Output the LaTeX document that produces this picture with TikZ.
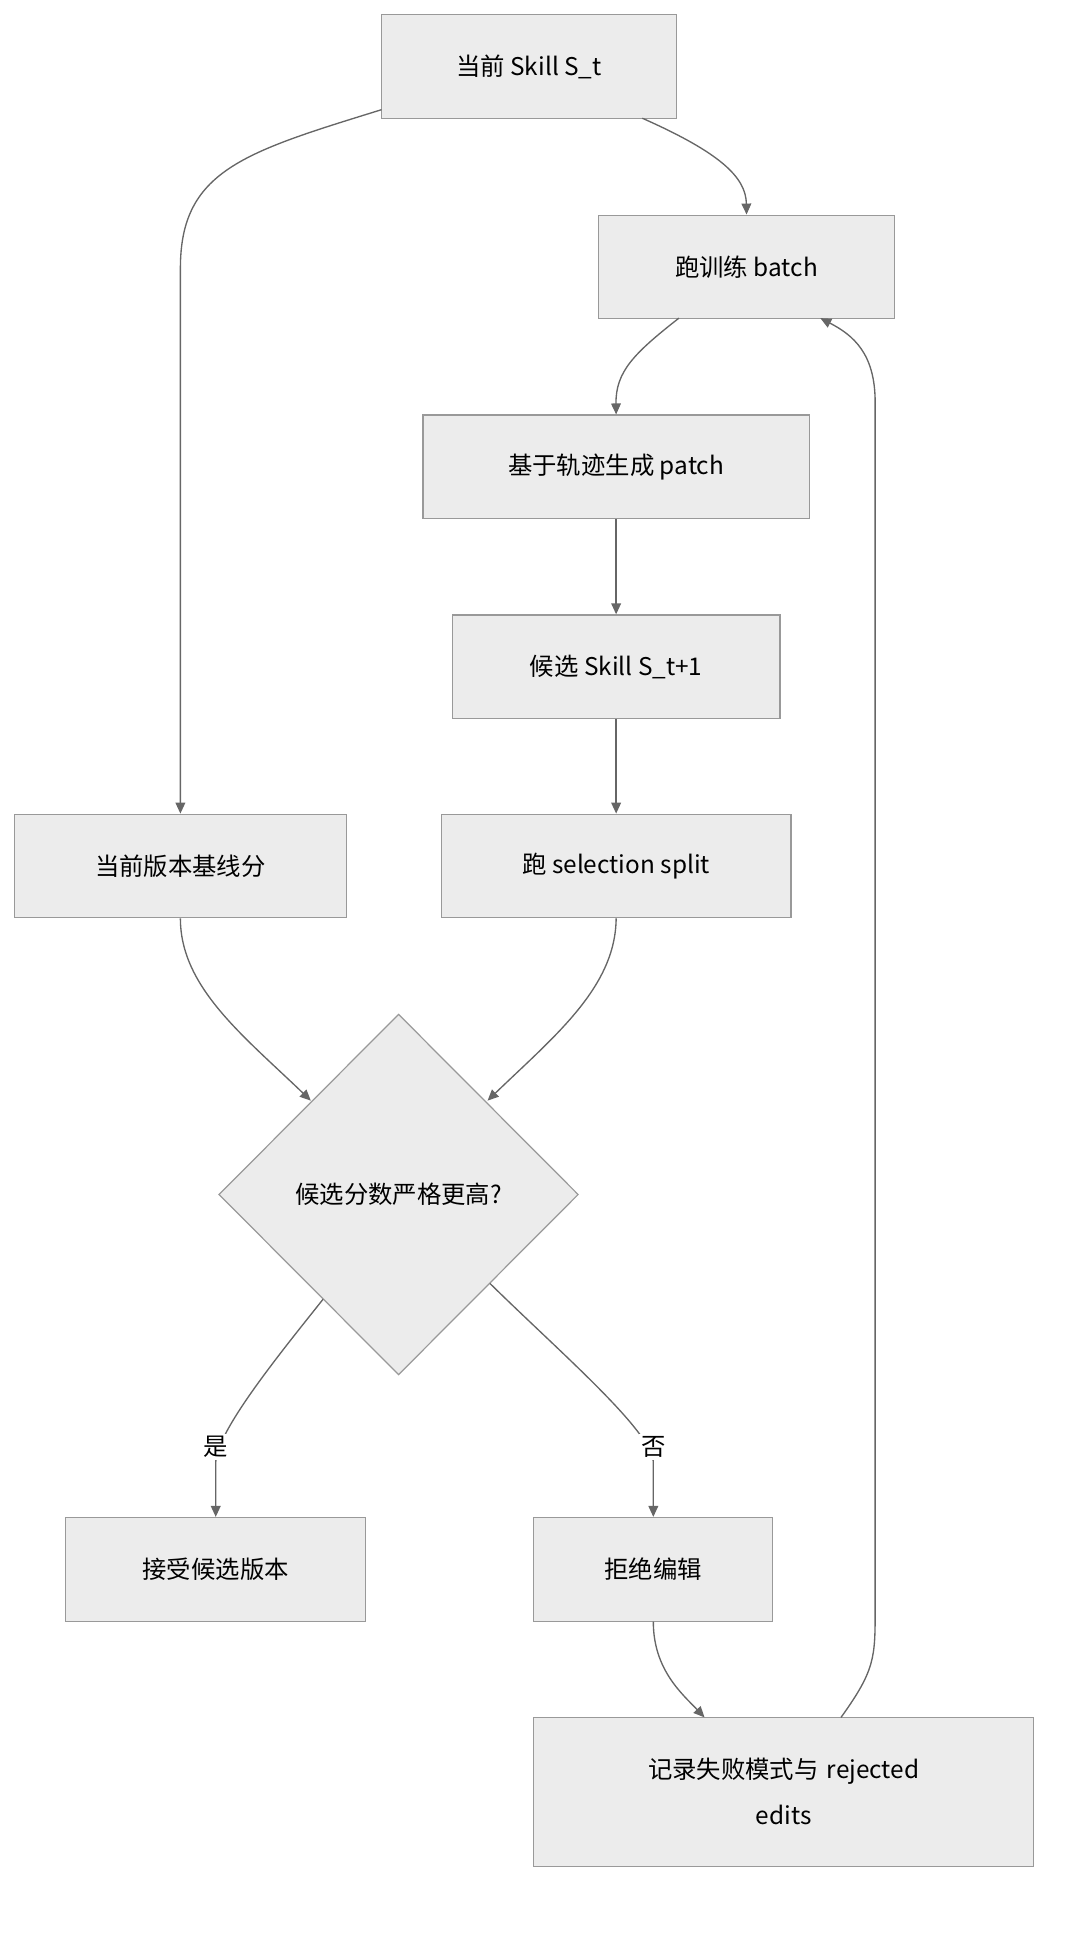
\documentclass[tikz,border=0pt]{standalone}
\usepackage{fontspec}
\setmainfont{Noto Sans CJK SC}
\usetikzlibrary{shapes.geometric,arrows.meta}
\definecolor{boxfill}{HTML}{ECECEC}
\definecolor{boxline}{HTML}{999999}
\definecolor{edge}{HTML}{666666}
\begin{document}
\begin{tikzpicture}[x=1pt,y=-1pt,
  box/.style={draw=boxline,fill=boxfill,line width=1pt,minimum height=85pt,inner sep=0pt,font=\fontsize{20}{38}\selectfont,align=center},
  arr/.style={draw=edge,line width=1.1pt,-{Triangle[length=9pt,width=8pt]}},
  lab/.style={fill=white,inner sep=2pt,font=\fontsize{20}{22}\selectfont}]
\useasboundingbox (0,0) rectangle (886,1590);
\node[box,minimum width=242pt] (A) at (434,54.5) {当前 Skill S\_t};
\node[box,minimum width=243pt] (B) at (612.5,219) {跑训练 batch};
\node[box,minimum width=317pt] (C) at (505.5,383) {基于轨迹生成 patch};
\node[box,minimum width=269pt] (D) at (505.5,547) {候选 Skill S\_t+1};
\node[box,minimum width=287pt] (E) at (505.5,710.5) {跑 selection split};
\node[box,minimum width=272pt] (F) at (148,710.5) {当前版本基线分};
\node[diamond,draw=boxline,fill=boxfill,line width=1pt,minimum width=295pt,minimum height=296pt,inner sep=0pt,font=\fontsize{20}{24}\selectfont] (G) at (327,980) {候选分数严格更高?};
\node[box,minimum width=246pt] (H) at (177,1287.5) {接受候选版本};
\node[box,minimum width=196pt] (I) at (536,1287.5) {拒绝编辑};
\node[box,minimum width=410pt,minimum height=122pt,text width=300pt] (J) at (643,1470) {记录失败模式与 rejected\\edits};
\coordinate (a1) at (527,97); \coordinate (a2) at (313,90);
\draw[arr] (a1) .. controls (590,125) and (612,145) .. (B.north);
\draw[arr] (a2) .. controls (200,125) and (148,140) .. (148,220) -- (F.north);
\coordinate (b1) at (557,261);
\draw[arr] (b1) .. controls (520,290) and (505,305) .. (C.north);
\draw[arr] (C) -- (D);
\draw[arr] (D) -- (E);
\coordinate (g1) at (255,903); \coordinate (g2) at (400,903);
\draw[arr] (F.south) .. controls (148,810) and (200,850) .. (g1);
\draw[arr] (E.south) .. controls (505,810) and (455,850) .. (g2);
\coordinate (g3) at (265,1066); \coordinate (g4) at (402,1053);
\draw[arr] (g3) .. controls (230,1110) and (177,1175) .. (177,1200) -- (H.north);
\draw[arr] (g4) .. controls (460,1110) and (536,1175) .. (536,1200) -- (I.north);
\node[lab] at (536,1187) {否};
\node[lab] at (177,1187) {是};
\coordinate (j1) at (578,1409);
\draw[arr] (I.south) .. controls (536,1370) and (560,1390) .. (j1);
\coordinate (j2) at (690,1409); \coordinate (bt) at (673,261);
\draw[arr] (j2) .. controls (718,1370) and (718,1360) .. (718,1320) -- (718,330) .. controls (718,290) and (700,275) .. (bt);
\end{tikzpicture}
\end{document}
